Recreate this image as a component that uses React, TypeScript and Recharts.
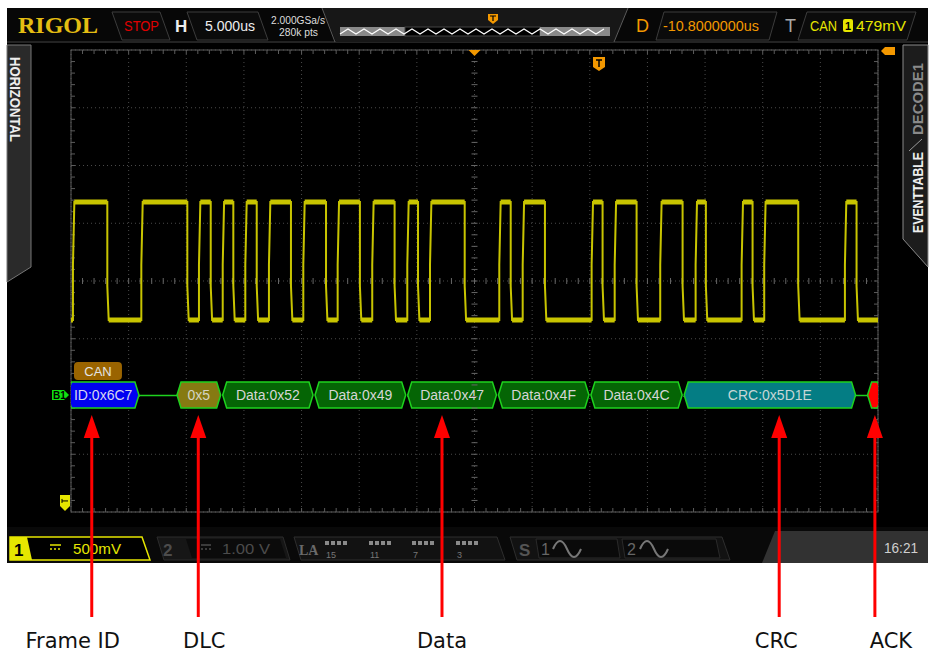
import React from 'react';
import { LineChart, Line, XAxis, YAxis, CartesianGrid, ReferenceArea, ReferenceLine } from 'recharts';

// CAN frame on CH1: 5 us/div, 500 mV/div, 14 x 8 divisions (time in us, level in V)
const edgeTimes = [
  0.17, 3.15, 6.1, 10.09, 11.1, 12.12, 13.16, 14.08, 15.12, 16.11, 17.17, 19.08, 20.15, 22.12,
  23.13, 25.06, 26.13, 28.07, 29.17, 30.1, 31.14, 34.15, 37.15, 38.14, 39.18, 41.11, 45.16,
  46.11, 47.16, 49.06, 51.11, 53.05, 54.18, 55.07, 58.17, 59.12, 60.13, 63.08, 67.13, 68.14,
];
const levelVolts = [1.576, 2.597]; // low / high seen on screen
const stepVolts = [1.87, 2.052]; // small shoulder on falling / rising edges

const decodeText = ['ID:0x6C7', '0x5', 'Data:0x52', 'Data:0x49', 'Data:0x47', 'Data:0x4F', 'Data:0x4C', 'CRC:0x5D1E', ''];
const decodeKind = ['id', 'dlc', 'data', 'data', 'data', 'data', 'data', 'crc', 'ack'];
const decodeFrom = [-0.4, 9.11, 13.07, 21.08, 29.12, 36.99, 45.01, 53.1, 69.01];
const decodeTo = [5.98, 13.07, 21.08, 29.12, 36.99, 45.01, 53.1, 68.14, 70.4];
const busVolts = [0.814, 1.039];
const busTagTime = [0.26, 4.42];
const busTagVolts = [1.056, 1.212];

const noteNames = ['Frame ID', 'DLC', 'Data', 'CRC', 'ACK'];
const noteTimes = [1.8, 11.04, 32.18, 61.43, 69.73];
const noteVolts = [0.753, -0.996];

// screen: 14 divisions of 5 us, 8 divisions of 0.5 V (0 V sits just above the bottom edge)
const timeTicks = [0, 5, 10, 15, 20, 25, 30, 35, 40, 45, 50, 55, 60, 65, 70];
const voltTicks = [-0.087, 0.413, 0.913, 1.413, 1.913, 2.413, 2.913, 3.413, 3.913];
const screenCenter = 35;
const triggerTime = 45.8;

const FONT = "'Liberation Sans', Arial, sans-serif";
const ORANGE = '#f39800';
const YEL = '#e6e600';
const BUS_EDGE = '#1ed21e';

type Row = { t: number; v: number; band: number | null };
const wave: Row[] = [];
{
  let lvl = levelVolts[0];
  wave.push({ t: 0, v: lvl, band: lvl });
  edgeTimes.forEach((t, i) => {
    const rising = i % 2 === 0;
    const next = rising ? levelVolts[1] : levelVolts[0];
    wave.push({ t, v: lvl, band: lvl });
    wave.push({ t, v: rising ? stepVolts[1] : stepVolts[0], band: null });
    wave.push({ t: t + 0.12, v: next, band: next });
    lvl = next;
  });
  wave.push({ t: 70, v: lvl, band: lvl });
}

const kindStyle: Record<string, { fill: string; text: string }> = {
  id: { fill: '#0000f2', text: '#d6d6ee' },
  dlc: { fill: '#867a12', text: '#d4d4c4' },
  data: { fill: '#056505', text: '#d6d6d6' },
  crc: { fill: '#047d84', text: '#c6d6d6' },
  ack: { fill: '#ff0000', text: '#fff' },
};

const hexBox = (kind: string, label: string) => (p: any) => {
  const { x, y, width, height, clipPath } = p;
  const st = kindStyle[kind];
  const a = x + 1;
  const b = x + width - 1;
  const m = y + height / 2;
  const k = 4;
  const pts = `${a},${m} ${a + k},${y} ${b - k},${y} ${b},${m} ${b - k},${y + height} ${a + k},${y + height}`;
  return (
    <g clipPath={clipPath}>
      <polygon points={pts} fill={st.fill} stroke={BUS_EDGE} strokeWidth={1.5} />
      {label ? (
        <text x={(a + b) / 2} y={m + 5} textAnchor="middle" fontFamily={FONT} fontSize={14} fill={st.text}>
          {label}
        </text>
      ) : null}
    </g>
  );
};

// idle bus between fields: solid green line on a dark band so the grid dots do not show through
const busLink = (p: any) => {
  const m = Math.round(p.y + p.height / 2) + 0.5;
  return (
    <g>
      <rect x={p.x} y={m - 3} width={p.width} height={6} fill="#000" />
      <line x1={p.x - 1} x2={p.x + p.width + 1} y1={m} y2={m} stroke={BUS_EDGE} strokeWidth={1.5} />
    </g>
  );
};

const busTag = (p: any) => (
  <g>
    <rect x={p.x} y={p.y} width={p.width} height={p.height} rx={4} fill="#9a6400" />
    <text x={p.x + p.width / 2} y={p.y + p.height / 2 + 5} textAnchor="middle" fontFamily={FONT} fontSize={13} fill="#e4e4e4">
      CAN
    </text>
  </g>
);

const gridFrame = (p: any) => {
  const { x, y, width: w, height: h } = p;
  const ticks: React.ReactNode[] = [];
  for (let i = 1; i < 70; i++) {
    const tx = x + (w * i) / 70;
    ticks.push(<line key={'t' + i} x1={tx} x2={tx} y1={y} y2={y + 4} />);
    ticks.push(<line key={'b' + i} x1={tx} x2={tx} y1={y + h} y2={y + h - 4} />);
  }
  for (let i = 1; i < 40; i++) {
    const ty = y + (h * i) / 40;
    ticks.push(<line key={'l' + i} x1={x} x2={x + 4} y1={ty} y2={ty} />);
    ticks.push(<line key={'r' + i} x1={x + w} x2={x + w - 4} y1={ty} y2={ty} />);
  }
  return (
    <g stroke="#5c5c5c" strokeWidth={1}>
      <rect x={x} y={y} width={w} height={h} fill="none" />
      {ticks}
    </g>
  );
};

const hCenterTicks = (p: any) => {
  const a = Math.min(p.x1, p.x2);
  const w = Math.abs(p.x2 - p.x1);
  const out: React.ReactNode[] = [];
  for (let i = 1; i < 70; i++) {
    const tx = a + (w * i) / 70;
    out.push(<line key={i} x1={tx} x2={tx} y1={p.y1 - 3} y2={p.y1 + 3} />);
  }
  return <g stroke="#666">{out}</g>;
};

const vCenterTicks = (p: any) => {
  const a = Math.min(p.y1, p.y2);
  const h = Math.abs(p.y2 - p.y1);
  const out: React.ReactNode[] = [];
  for (let i = 1; i < 40; i++) {
    const ty = a + (h * i) / 40;
    out.push(<line key={i} x1={p.x1 - 3} x2={p.x1 + 3} y1={ty} y2={ty} />);
  }
  return <g stroke="#666">{out}</g>;
};

const centerMark = (p: any) => {
  const top = Math.min(p.y1, p.y2);
  return <polygon points={`${p.x1 - 6},${top} ${p.x1 + 6},${top} ${p.x1},${top + 6}`} fill={ORANGE} />;
};

const triggerMark = (p: any) => {
  const top = Math.min(p.y1, p.y2) + 7;
  const x = p.x1;
  return (
    <g>
      <polygon points={`${x - 6},${top} ${x + 6},${top} ${x + 6},${top + 10} ${x},${top + 14} ${x - 6},${top + 10}`} fill={ORANGE} />
      <path d={`M${x - 3},${top + 3} H${x + 3} M${x},${top + 3} V${top + 10}`} stroke="#000" strokeWidth={1.5} />
    </g>
  );
};

const busMarker = (p: any) => {
  const x = Math.min(p.x1, p.x2);
  const y = p.y1;
  return (
    <g>
      <polygon points={`${x - 19},${y - 5} ${x - 7},${y - 5} ${x - 2},${y} ${x - 7},${y + 5} ${x - 19},${y + 5}`} fill="#10e010" />
      <text x={x - 18} y={y + 4} fontFamily={FONT} fontWeight="bold" fontSize={10} fill="#000">
        B1
      </text>
    </g>
  );
};

const groundMarker = (p: any) => {
  const x = Math.min(p.x1, p.x2);
  const y = p.y1;
  return (
    <g>
      <polygon points={`${x - 11},${y - 7} ${x - 1},${y - 7} ${x - 1},${y + 4} ${x - 6},${y + 9} ${x - 11},${y + 4}`} fill={YEL} />
      <path d={`M${x - 9},${y - 1} H${x - 3} M${x - 9},${y - 3} V${y + 1}`} stroke="#000" strokeWidth={1} />
    </g>
  );
};

const noteNudge = [-19, 6, 0, -3, 16];

const noteArrow = (name: string, nudge: number) => (p: any) => {
  const x = p.x1;
  const tip = Math.min(p.y1, p.y2);
  const end = Math.max(p.y1, p.y2);
  return (
    <g>
      <line x1={x} x2={x} y1={tip + 20} y2={end} stroke="#ff0000" strokeWidth={3} />
      <polygon points={`${x},${tip} ${x - 8},${tip + 23} ${x + 8},${tip + 23}`} fill="#ff0000" />
      <text x={x + nudge} y={end + 31} textAnchor="middle" fontFamily="'DejaVu Sans', sans-serif" fontSize={21} fill="#111">
        {name}
      </text>
    </g>
  );
};

const Chrome = () => {
  const zig: string[] = [];
  for (let x = 340, k = 0; x <= 610; x += 8, k++) zig.push(`${x},${k % 2 ? 29 : 34}`);
  const laGroups = [325, 369, 412, 456];
  const laNums = ['15', '11', '7', '3'];
  const sine = (x: number) => `M${x},549 q7,-16 14,0 t14,0`;
  return (
    <svg width={930} height={658} style={{ position: 'absolute', left: 0, top: 0 }}>
      <rect width={930} height={658} fill="#fff" />
      <rect x={7} y={8} width={921} height={555} fill="#000" />

      {/* status bar */}
      <rect x={7} y={8} width={921} height={34} fill="#070707" />
      <line x1={7} x2={928} y1={42} y2={42} stroke="#232323" strokeWidth={2} />
      <text x={18} y={33} fontFamily="'Liberation Serif', serif" fontWeight="bold" fontSize={24} fill="#e4bd12">RIGOL</text>
      <polygon points="112,12 160,12 170,40 122,40" fill="#0b0b0b" stroke="#3c3c3c" />
      <text x={124} y={31} fontFamily={FONT} fontSize={15} fill="#e00000" textLength={35} lengthAdjust="spacingAndGlyphs">STOP</text>
      <text x={175} y={32} fontFamily={FONT} fontWeight="bold" fontSize={17} fill="#eee">H</text>
      <polygon points="187,12 258,12 268,40 197,40" fill="#0b0b0b" stroke="#3c3c3c" />
      <text x={205} y={31} fontFamily={FONT} fontSize={15} fill="#eee" textLength={50} lengthAdjust="spacingAndGlyphs">5.000us</text>
      <text x={271} y={24} fontFamily={FONT} fontSize={10} fill="#ddd" textLength={54} lengthAdjust="spacingAndGlyphs">2.000GSa/s</text>
      <text x={279} y={36} fontFamily={FONT} fontSize={10} fill="#ddd" textLength={39} lengthAdjust="spacingAndGlyphs">280k pts</text>

      <polygon points="322,8 628,8 614,42 336,42" fill="#171717" />
      <line x1={322} y1={8} x2={335} y2={42} stroke="#5a5a5a" />
      <line x1={628} y1={8} x2={614} y2={42} stroke="#5a5a5a" />
      <rect x={340} y={27} width={65} height={9} fill="#8a8a8a" />
      <rect x={405} y={27} width={135} height={9} fill="#000" stroke="#444" />
      <rect x={540} y={27} width={70} height={9} fill="#8a8a8a" />
      <polyline points={zig.join(' ')} fill="none" stroke="#fff" strokeWidth={1.2} />
      <polygon points="488,14 498,14 498,20 493,24 488,20" fill={ORANGE} />
      <path d="M490,16 H496 M493,16 V21" stroke="#000" strokeWidth={1.2} />

      <text x={636} y={32} fontFamily={FONT} fontSize={18} fill={ORANGE}>D</text>
      <polygon points="664,12 777,12 769,40 656,40" fill="#0b0b0b" stroke="#3c3c3c" />
      <text x={663} y={31} fontFamily={FONT} fontSize={15} fill={ORANGE} textLength={96} lengthAdjust="spacingAndGlyphs">-10.8000000us</text>
      <text x={785} y={32} fontFamily={FONT} fontSize={18} fill="#aaa">T</text>
      <polygon points="807,12 916,12 907,40 798,40" fill="#0b0b0b" stroke="#3c3c3c" />
      <text x={810} y={31} fontFamily={FONT} fontSize={14} fill={YEL} textLength={27} lengthAdjust="spacingAndGlyphs">CAN</text>
      <rect x={843} y={19} width={10} height={13} rx={2} fill={YEL} />
      <text x={848} y={30} textAnchor="middle" fontFamily={FONT} fontWeight="bold" fontSize={11} fill="#000">1</text>
      <text x={856} y={31} fontFamily={FONT} fontSize={15} fill={YEL} textLength={50} lengthAdjust="spacingAndGlyphs">479mV</text>

      {/* side tabs */}
      <polygon points="7,45 31,45 31,267 7,282" fill="#2a2a2a" stroke="#777" />
      <text x={10} y={57} transform="rotate(90 10 57)" fontFamily={FONT} fontWeight="bold" fontSize={15} fill="#eee" textLength={85} lengthAdjust="spacingAndGlyphs">HORIZONTAL</text>
      <polygon points="903,45 928,45 928,267 903,239" fill="#1c1c1c" stroke="#8a8a8a" />
      <text x={923} y={135} transform="rotate(-90 923 135)" fontFamily={FONT} fontWeight="bold" fontSize={15} fill="#8a8a8a" textLength={72} lengthAdjust="spacingAndGlyphs">DECODE1</text>
      <line x1={909} y1={151} x2={922} y2={139} stroke="#999" />
      <text x={923} y={233} transform="rotate(-90 923 233)" fontFamily={FONT} fontWeight="bold" fontSize={15} fill="#eee" textLength={81} lengthAdjust="spacingAndGlyphs">EVENTTABLE</text>
      <polygon points="881,51 885,47 895,47 895,55 885,55" fill={ORANGE} />

      {/* bottom channel bar */}
      <rect x={7} y={527} width={921} height={36} fill="#090909" />
      <polygon points="10,537 142,537 150,560 10,560" fill="#000" stroke={YEL} strokeWidth={1.5} />
      <polygon points="10,537 27,537 32,560 10,560" fill={YEL} />
      <text x={14} y={556} fontFamily={FONT} fontWeight="bold" fontSize={17} fill="#000">1</text>
      <line x1={50} x2={61} y1={545} y2={545} stroke={YEL} strokeWidth={1.5} />
      <line x1={50} x2={61} y1={549} y2={549} stroke={YEL} strokeWidth={1.5} strokeDasharray="2 2" />
      <text x={73} y={554} fontFamily={FONT} fontSize={15} fill={YEL} textLength={48} lengthAdjust="spacingAndGlyphs">500mV</text>

      <polygon points="157,537 283,537 290,560 164,560" fill="#161616" stroke="#2c2c2c" />
      <polygon points="186,539 280,539 286,558 192,558" fill="#0b0b0b" />
      <text x={163} y={556} fontFamily={FONT} fontWeight="bold" fontSize={17} fill="#4c4c4c">2</text>
      <line x1={201} x2={211} y1={545} y2={545} stroke="#4c4c4c" strokeWidth={1.5} />
      <line x1={201} x2={211} y1={549} y2={549} stroke="#4c4c4c" strokeWidth={1.5} strokeDasharray="2 2" />
      <text x={222} y={554} fontFamily={FONT} fontSize={15} fill="#4c4c4c" textLength={48} lengthAdjust="spacingAndGlyphs">1.00 V</text>

      <polygon points="294,537 497,537 505,560 301,560" fill="#121212" stroke="#2e2e2e" />
      <text x={299} y={555} fontFamily="'Liberation Serif', serif" fontWeight="bold" fontSize={14} fill="#6a6a6a">LA</text>
      {laGroups.map((g, gi) => (
        <g key={g}>
          {[0, 1, 2, 3].map((j) => (
            <rect key={j} x={g + j * 6} y={541} width={4} height={4} fill="#8a8a8a" />
          ))}
          <text x={g + 1} y={558} fontFamily={FONT} fontSize={9} fill="#777">{laNums[gi]}</text>
        </g>
      ))}

      <polygon points="510,537 722,537 730,560 517,560" fill="#121212" stroke="#2e2e2e" />
      <text x={519} y={556} fontFamily={FONT} fontWeight="bold" fontSize={17} fill="#555">S</text>
      <polygon points="536,539 617,539 620,558 539,558" fill="#0a0a0a" stroke="#2a2a2a" />
      <text x={541} y={555} fontFamily={FONT} fontSize={16} fill="#666">1</text>
      <path d={sine(553)} fill="none" stroke="#777" strokeWidth={2} />
      <polygon points="622,539 716,539 720,558 625,558" fill="#0a0a0a" stroke="#2a2a2a" />
      <text x={627} y={555} fontFamily={FONT} fontSize={16} fill="#666">2</text>
      <path d={sine(640)} fill="none" stroke="#777" strokeWidth={2} />

      <polygon points="775,531 928,531 928,563 762,563" fill="#323232" />
      <text x={884} y={553} fontFamily={FONT} fontSize={15} fill="#d0d0d0" textLength={34} lengthAdjust="spacingAndGlyphs">16:21</text>
    </svg>
  );
};

export default function App() {
  const gaps = decodeTo.slice(0, -1).map((e, i) => [e, decodeFrom[i + 1]]).filter(([a, b]) => b - a > 0.05);
  const busMid = (busVolts[0] + busVolts[1]) / 2;
  const vLo = voltTicks[0];
  const vHi = voltTicks[voltTicks.length - 1];
  const vMid = voltTicks[4];
  return (
    <div style={{ position: 'absolute', left: 0, top: 0, width: 930, height: 658, overflow: 'hidden' }}>
      <Chrome />
      <div style={{ position: 'absolute', left: 0, top: 0 }}>
        <LineChart width={930} height={658} data={wave} margin={{ top: 50, right: 52, bottom: 146, left: 71 }}>
          <XAxis dataKey="t" type="number" domain={[0, 70]} ticks={timeTicks} hide allowDataOverflow />
          <YAxis type="number" domain={[vLo, vHi]} ticks={voltTicks} hide allowDataOverflow />
          <CartesianGrid stroke="#4a4a4a" strokeDasharray="1 3" />
          <ReferenceArea x1={0} x2={70} y1={vLo} y2={vHi} ifOverflow="visible" shape={gridFrame} />
          <ReferenceLine y={vMid} ifOverflow="visible" shape={hCenterTicks} />
          <ReferenceLine x={screenCenter} ifOverflow="visible" shape={vCenterTicks} />
          <ReferenceLine x={screenCenter} ifOverflow="visible" shape={centerMark} />
          <ReferenceLine x={triggerTime} ifOverflow="visible" shape={triggerMark} />
          <ReferenceLine y={0} ifOverflow="visible" shape={groundMarker} />

          <Line dataKey="band" type="linear" stroke="#c8c400" strokeWidth={5} dot={false} activeDot={false} isAnimationActive={false} />
          <Line dataKey="v" type="linear" stroke="#c8c400" strokeWidth={2} dot={false} activeDot={false} isAnimationActive={false} />

          <ReferenceLine y={busMid} ifOverflow="visible" shape={busMarker} />
          <ReferenceArea x1={busTagTime[0]} x2={busTagTime[1]} y1={busTagVolts[0]} y2={busTagVolts[1]} ifOverflow="visible" shape={busTag} />
          {gaps.map(([a, b]) => (
            <ReferenceArea key={'g' + a} x1={a} x2={b} y1={busMid - 0.02} y2={busMid + 0.02} ifOverflow="visible" shape={busLink} />
          ))}
          {decodeText.map((txt, i) => (
            <ReferenceArea
              key={'d' + i}
              x1={decodeFrom[i]}
              x2={decodeTo[i]}
              y1={busVolts[0]}
              y2={busVolts[1]}
              ifOverflow="hidden"
              shape={hexBox(decodeKind[i], txt)}
            />
          ))}
          {noteNames.map((n, i) => (
            <ReferenceLine
              key={n}
              segment={[{ x: noteTimes[i], y: noteVolts[0] }, { x: noteTimes[i], y: noteVolts[1] }]}
              ifOverflow="visible"
              shape={noteArrow(n, noteNudge[i])}
            />
          ))}
        </LineChart>
      </div>
    </div>
  );
}
